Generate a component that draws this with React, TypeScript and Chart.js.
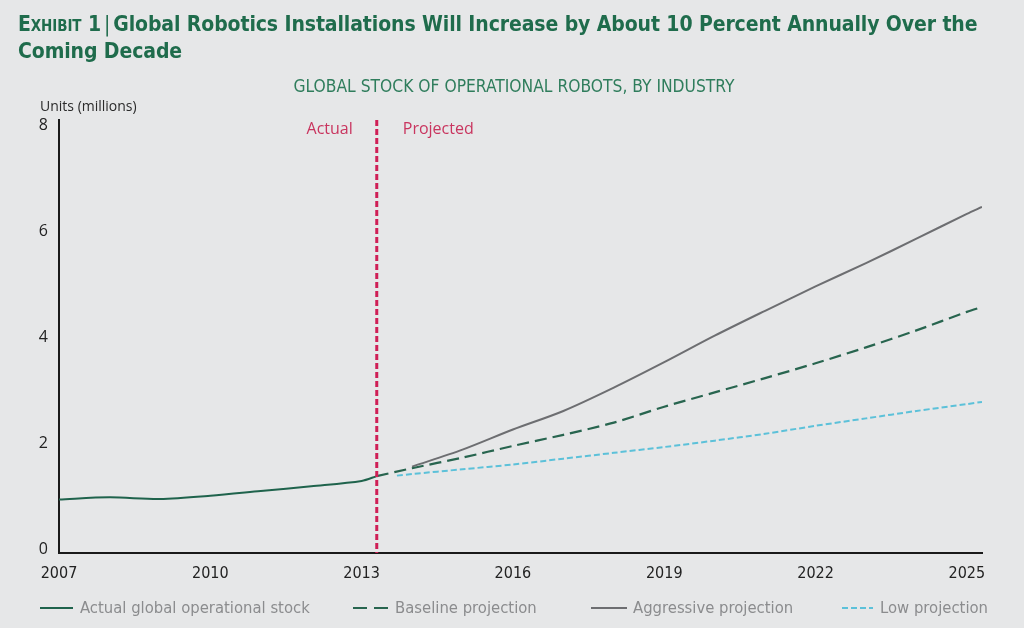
import React, { useEffect, useRef } from "react";
import { Chart, registerables } from "chart.js";

Chart.register(...registerables);

// ---- data ----
const actualYears = [2007, 2008, 2009, 2010, 2011, 2012, 2013, 2013.3];
const actualValues = [1.01, 1.05, 1.02, 1.08, 1.17, 1.26, 1.36, 1.45];

const baselineYears = [2013.3, 2014, 2015, 2016, 2017, 2018, 2019, 2020, 2021, 2022, 2023, 2024, 2025, 2025.3];
const baselineValues = [1.45, 1.6, 1.8, 2.02, 2.23, 2.46, 2.76, 3.03, 3.3, 3.58, 3.88, 4.2, 4.55, 4.64];

const aggressiveYears = [2014, 2015, 2016, 2017, 2018, 2019, 2020, 2021, 2022, 2023, 2024, 2025, 2025.3];
const aggressiveValues = [1.63, 1.95, 2.33, 2.68, 3.12, 3.6, 4.1, 4.57, 5.03, 5.47, 5.93, 6.4, 6.53];

const lowYears = [2013.7, 2014, 2015, 2016, 2017, 2018, 2019, 2020, 2021, 2022, 2023, 2024, 2025, 2025.3];
const lowValues = [1.46, 1.49, 1.58, 1.67, 1.78, 1.89, 2.0, 2.12, 2.25, 2.4, 2.54, 2.68, 2.81, 2.85];

const xTickYears = [2007, 2010, 2013, 2016, 2019, 2022, 2025];
const yTickValues = [0, 2, 4, 6, 8];
const dividerYear = 2013.3;

const seriesLabels = [
  "Actual global operational stock",
  "Baseline projection",
  "Aggressive projection",
  "Low projection",
];

const GREEN = "#1f634c";
const GRAY = "#6d6e71";
const CYAN = "#5cc1d9";
const RED = "#cf1f56";
const NARROW = "'Liberation Sans Narrow', 'DejaVu Sans Condensed', 'Roboto Condensed', sans-serif";
const SANS = "'Open Sans', 'Noto Sans', sans-serif";

const pts = (xs: number[], ys: number[]) => xs.map((x, i) => ({ x, y: ys[i] }));

const dividerPlugin = {
  id: "divider",
  afterDatasetsDraw(chart: any) {
    const { ctx, chartArea, scales } = chart;
    const x = scales.x.getPixelForValue(dividerYear);
    ctx.save();
    ctx.strokeStyle = RED;
    ctx.lineWidth = 3;
    ctx.setLineDash([6, 3]);
    ctx.beginPath();
    ctx.moveTo(x, chartArea.top);
    ctx.lineTo(x, chartArea.bottom);
    ctx.stroke();
    ctx.setLineDash([]);
    ctx.fillStyle = "#c9355f";
    ctx.font = `16px ${SANS}`;
    ctx.textBaseline = "middle";
    ctx.textAlign = "right";
    ctx.fillText("Actual", x - 24, chartArea.top + 9);
    ctx.textAlign = "left";
    ctx.fillText("Projected", x + 26, chartArea.top + 9);
    ctx.restore();
  },
};

function LegendItem({ left, textLeft, label, sample }: any) {
  return (
    <>
      <div style={{ position: "absolute", left, top: 607, height: 2, ...sample }} />
      <div
        style={{
          position: "absolute",
          left: textLeft,
          top: 597,
          fontFamily: NARROW,
          fontSize: 16.5,
          color: "#8b8c8e",
          lineHeight: "22px",
          whiteSpace: "nowrap",
        }}
      >
        {label}
      </div>
    </>
  );
}

export default function App() {
  const ref = useRef<HTMLCanvasElement | null>(null);

  useEffect(() => {
    if (!ref.current) return;
    const chart = new Chart(ref.current, {
      type: "line",
      data: {
        datasets: [
          {
            label: seriesLabels[0],
            data: pts(actualYears, actualValues),
            borderColor: GREEN,
            borderWidth: 2,
            pointRadius: 0,
            tension: 0.3,
          },
          {
            label: seriesLabels[1],
            data: pts(baselineYears, baselineValues),
            borderColor: "#28654f",
            borderWidth: 2.2,
            borderDash: [12, 6],
            pointRadius: 0,
            tension: 0.3,
          },
          {
            label: seriesLabels[2],
            data: pts(aggressiveYears, aggressiveValues),
            borderColor: GRAY,
            borderWidth: 2,
            pointRadius: 0,
            tension: 0.3,
          },
          {
            label: seriesLabels[3],
            data: pts(lowYears, lowValues),
            borderColor: CYAN,
            borderWidth: 2,
            borderDash: [6, 3],
            pointRadius: 0,
            tension: 0.3,
          },
        ],
      },
      options: {
        animation: false,
        responsive: false,
        devicePixelRatio: 1,
        layout: { padding: { left: 0, right: 42, top: 120, bottom: 40 } },
        plugins: { legend: { display: false }, tooltip: { enabled: false }, title: { display: false } },
        scales: {
          x: {
            type: "linear",
            min: 2007,
            max: 2025.3,
            afterBuildTicks: (s: any) => {
              s.ticks = xTickYears.map((v) => ({ value: v }));
            },
            afterFit: (s: any) => {
              s.height = 35;
            },
            grid: { display: false, drawTicks: false },
            border: { display: true, color: "#1a1a1a", width: 2 },
            ticks: {
              color: "#222",
              font: { family: NARROW, size: 16 },
              padding: 11,
              maxRotation: 0,
              autoSkip: false,
              callback: (v: any) => String(v),
            },
          },
          y: {
            min: 0,
            max: 8.17,
            afterBuildTicks: (s: any) => {
              s.ticks = yTickValues.map((v) => ({ value: v }));
            },
            afterFit: (s: any) => {
              s.width = 59;
            },
            grid: { display: false, drawTicks: false },
            border: { display: true, color: "#1a1a1a", width: 2 },
            ticks: {
              color: "#222",
              font: { family: SANS, size: 16 },
              padding: 11,
              labelOffset: -4,
              callback: (v: any) => String(v),
            },
          },
        },
      },
      plugins: [dividerPlugin],
    });
    return () => chart.destroy();
  }, []);

  return (
    <div
      style={{
        position: "absolute",
        left: 0,
        top: 0,
        width: 1024,
        height: 628,
        background: "#e6e7e8",
        overflow: "hidden",
      }}
    >
      <canvas
        ref={ref}
        width={1024}
        height={628}
        style={{ position: "absolute", left: 0, top: 0, width: 1024, height: 628 }}
      />
      <div
        style={{
          position: "absolute",
          left: 18,
          top: 11,
          fontFamily: NARROW,
          fontWeight: "bold",
          fontSize: 21,
          letterSpacing: "-0.1px",
          lineHeight: "27px",
          color: "#1f6c4c",
          whiteSpace: "nowrap",
        }}
      >
        <span style={{ fontVariant: "small-caps" }}>Exhibit 1</span>
        <span style={{ fontWeight: "normal", margin: "0 3px" }}>|</span>
        Global Robotics Installations Will Increase by About 10 Percent Annually Over the
        <br />
        Coming Decade
      </div>
      <div
        style={{
          position: "absolute",
          left: 0,
          width: 1028,
          top: 76,
          textAlign: "center",
          fontFamily: NARROW,
          fontSize: 17.3,
          color: "#2f7d5c",
          lineHeight: "20px",
        }}
      >
        GLOBAL STOCK OF OPERATIONAL ROBOTS, BY INDUSTRY
      </div>
      <div
        style={{
          position: "absolute",
          left: 40,
          top: 97,
          fontFamily: SANS,
          fontSize: 14,
          color: "#2a2a2a",
          lineHeight: "18px",
        }}
      >
        Units (millions)
      </div>
      <LegendItem left={40} textLeft={80} label={seriesLabels[0]} sample={{ width: 33, background: GREEN }} />
      <LegendItem
        left={353}
        textLeft={395}
        label={seriesLabels[1]}
        sample={{
          width: 35,
          background: "repeating-linear-gradient(to right, #28654f 0 14px, transparent 14px 21px)",
        }}
      />
      <LegendItem left={591} textLeft={633} label={seriesLabels[2]} sample={{ width: 36, background: GRAY }} />
      <LegendItem
        left={842}
        textLeft={880}
        label={seriesLabels[3]}
        sample={{
          width: 31,
          background: `repeating-linear-gradient(to right, ${CYAN} 0 6px, transparent 6px 9px)`,
        }}
      />
    </div>
  );
}
